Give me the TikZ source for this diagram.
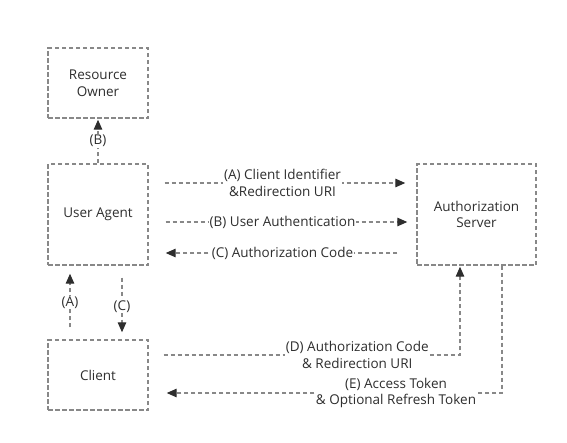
\documentclass[tikz,border=0pt]{standalone}
\usepackage{fontspec}
\setmainfont{Open Sans}
\usetikzlibrary{positioning,arrows.meta}
\usepackage{xcolor}
\definecolor{edge}{HTML}{888888}
\definecolor{ink}{HTML}{2E2E2E}
\begin{document}
\begin{tikzpicture}[x=1pt,y=-1pt,
    f/.style={-{Triangle[length=10pt,width=8.5pt,color=ink]},draw=edge,line width=1.3pt,dash pattern=on 4.5pt off 2.5pt},%
    s/.style={draw=edge,line width=1.4pt,dash pattern=on 4.5pt off 2.5pt,align=center,minimum width=100pt,minimum height=70pt},%
    p/.style={fill=white,inner sep=1pt,align=center},
    font=\fontsize{13.5}{16.5}\selectfont,text=ink]
    \useasboundingbox (0,0) rectangle (567,442);
    \node[s] (RO) at (98,83) {Resource\\Owner} ;
    \node[s,minimum height=101pt] (UA) at (98,214.5) {User Agent} ;
    \node[s,minimum width=119pt,minimum height=101pt] (AS) at (476.5,214.5) {Authorization\\Server} ;
    \node[s] (Client) at (98,375) {Client} ;
    \draw[f,shorten >=1pt] (UA) -- (RO) node[pos=0.5,p] (lb) {(B)} ;
    \draw[f,shorten <=12pt,shorten >=8pt] ([xshift=-28pt]Client.north) -- ([xshift=-28pt]UA.south) node[pos=0.5,p] (la) {(A)} ;
    \draw[f,shorten <=12pt,shorten >=7pt] ([xshift=24pt]UA.south) -- ([xshift=24pt]Client.north) node[pos=0.55,p] (lc) {(C)} ;
    \draw[f,shorten <=16pt,shorten >=11pt] ([yshift=31.5pt]UA.east) -- ([yshift=31.5pt]AS.west) node[pos=0.5,p] (ta) {(A) Client Identifier\\\&Redirection URI} ;
    \draw[f,shorten <=17pt,shorten >=9pt] ([yshift=-7.5pt]UA.east) -- ([yshift=-7.5pt]AS.west) node[pos=0.5,p] (tb) {(B) User Authentication} ;
    \draw[f,shorten <=19pt,shorten >=17pt] ([yshift=-38.5pt]AS.west) -- ([yshift=-38.5pt]UA.east) node[pos=0.5,p] (tc) {(C) Authorization Code} ;
    \draw[f,shorten <=15pt,shorten >=1pt] ([yshift=20pt]Client.east) -| ([xshift=-16.5pt]AS.south) node[pos=0.335,p] (td) {(D) Authorization Code\\\& Redirection URI} ;
    \draw[f,shorten >=18pt] ([xshift=25.5pt]AS.south) |- ([yshift=-18pt]Client.east) node[pos=0.65,p] (te) {(E) Access Token\\\& Optional Refresh Token} ;
    \end{tikzpicture}
\end{document}
